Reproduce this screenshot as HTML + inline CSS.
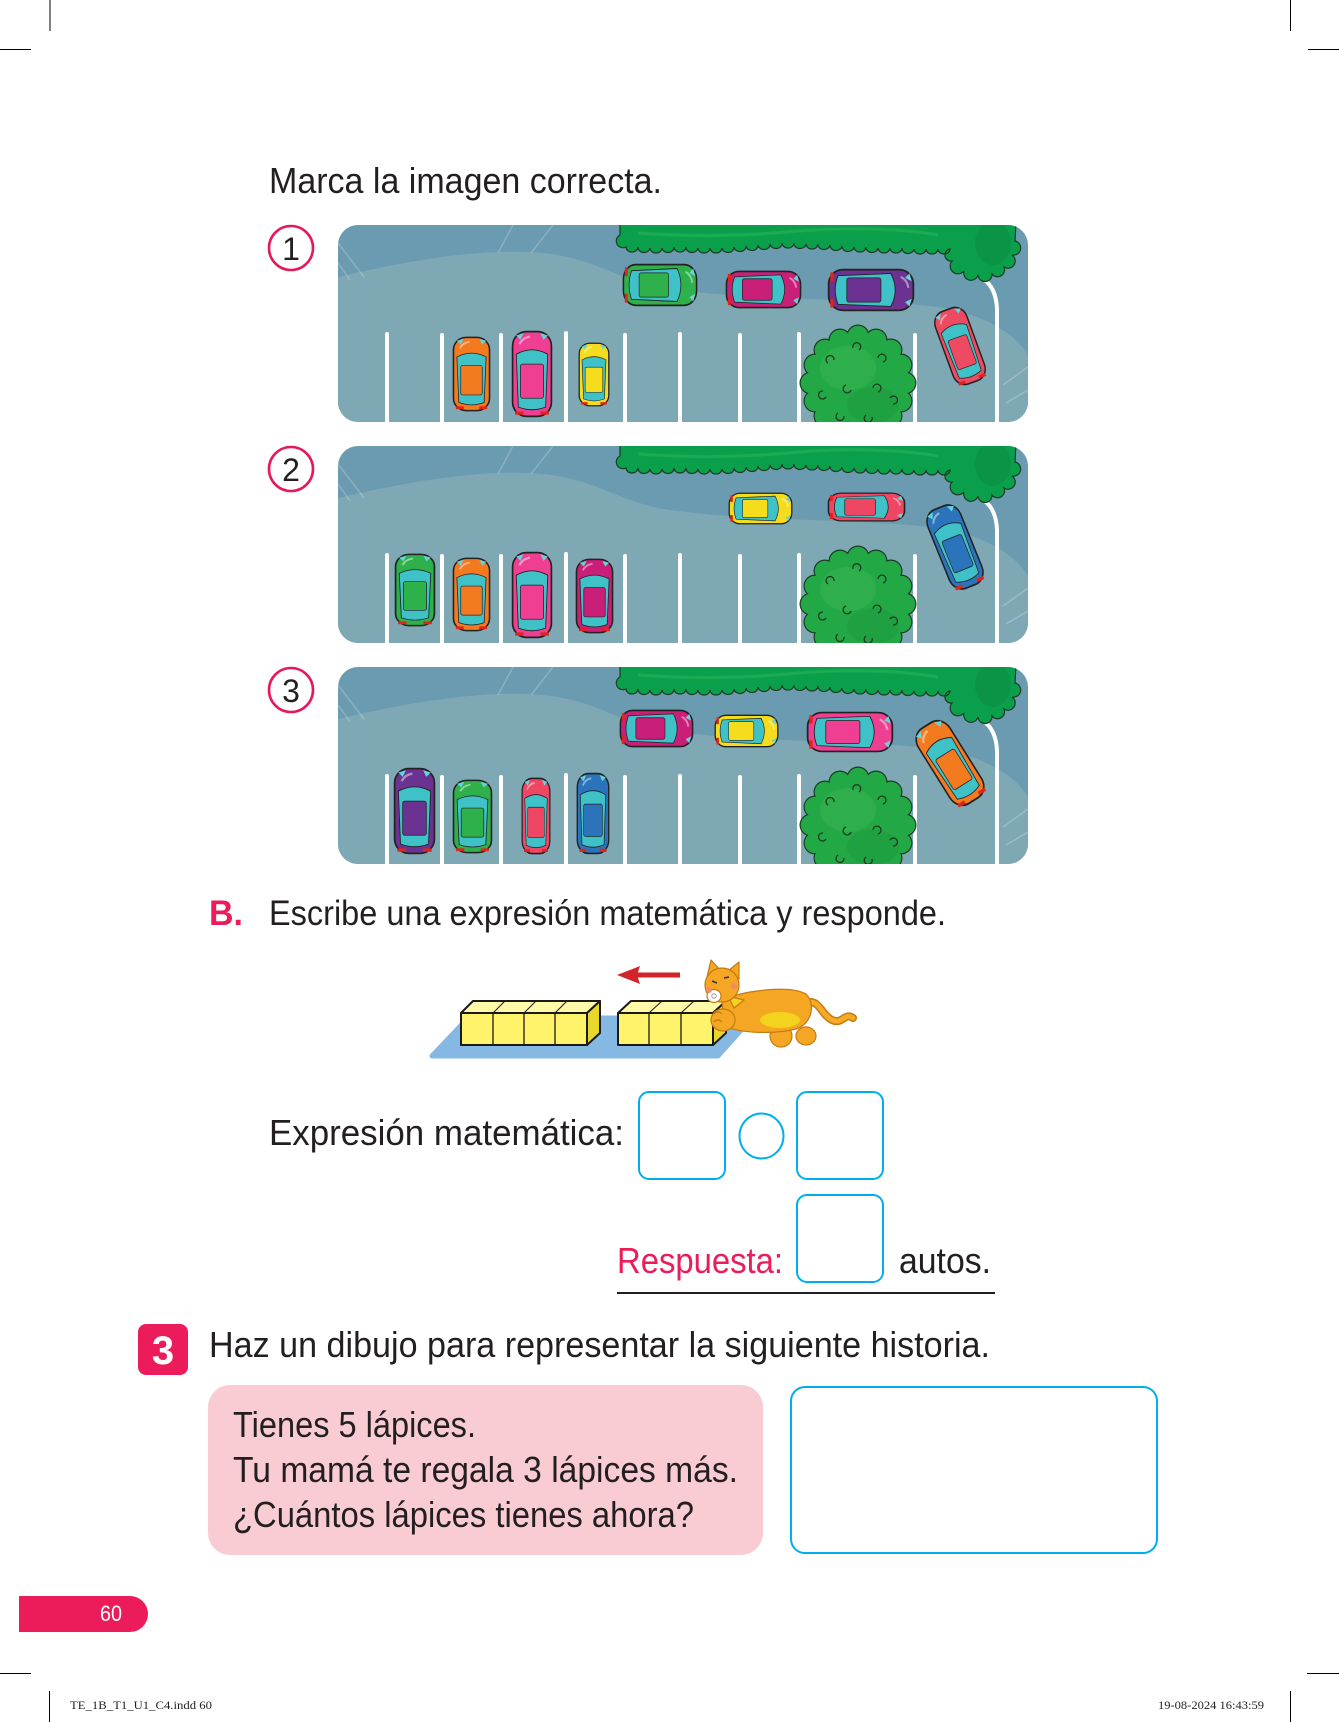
<!DOCTYPE html>
<html><head><meta charset="utf-8">
<style>
html,body{margin:0;padding:0;background:#fff;}
svg{display:block;}
text{font-family:"Liberation Sans",Arial,sans-serif;fill:#231f20;}
</style></head>
<body>
<svg width="1339" height="1722" viewBox="0 0 1339 1722" xmlns="http://www.w3.org/2000/svg">
<defs>
  <clipPath id="pc" clipPathUnits="userSpaceOnUse"><rect x="0" y="0" width="690" height="197" rx="20"/></clipPath>
  <symbol id="car" viewBox="0 0 40 80" preserveAspectRatio="none">
    <rect x="1.5" y="1.5" width="37" height="77" rx="13" fill="currentColor" stroke="#222" stroke-width="1.6"/>
    <path d="M5,22 Q20,14 35,22 L33,70 Q20,75 7,70 Z" fill="#3fc1c8" stroke="#222" stroke-width="0.8"/>
    <rect x="9" y="31" width="22" height="31" rx="2" fill="currentColor" stroke="#222" stroke-width="0.7"/>
    <path d="M5,5 L12,3 L9,9 Z" fill="#6ad3d8"/>
    <path d="M35,5 L28,3 L31,9 Z" fill="#6ad3d8"/>
    <rect x="4" y="74" width="8" height="3" fill="#e2231a"/>
    <rect x="28" y="74" width="8" height="3" fill="#e2231a"/>
    <path d="M8,13 Q11,7 18,6" stroke="#fff" stroke-opacity=".45" stroke-width="2" fill="none"/>
  </symbol>
  <g id="lot">
    <rect x="0" y="0" width="690" height="197" fill="#6a9bb0"/>
    <path d="M0,52 C60,38 140,22 205,28 C255,33 275,52 320,62 C400,76 520,72 600,82 C640,88 675,105 690,130 L690,197 L0,197 Z" fill="#7fa8b5"/>
    <g stroke="#ffffff" stroke-opacity="0.22" stroke-width="1.5" fill="none">
      <line x1="0" y1="18" x2="26" y2="52"/>
      <line x1="0" y1="38" x2="12" y2="55"/>
      <line x1="175" y1="0" x2="160" y2="28"/>
      <line x1="215" y1="0" x2="193" y2="28"/>
      <line x1="665" y1="160" x2="690" y2="142"/>
      <line x1="668" y1="178" x2="690" y2="165"/>
    </g>
    <g fill="#ffffff">
      <rect x="47" y="107" width="4" height="95" rx="2"/>
      <rect x="102" y="108" width="4" height="95" rx="2"/>
      <rect x="161" y="108" width="4" height="95" rx="2"/>
      <rect x="226" y="106" width="4" height="95" rx="2"/>
      <rect x="285" y="108" width="4" height="95" rx="2"/>
      <rect x="340" y="107" width="4" height="95" rx="2"/>
      <rect x="400" y="108" width="4" height="95" rx="2"/>
      <rect x="459" y="107" width="4" height="95" rx="2"/>
      <rect x="517" y="108" width="4" height="95" rx="2"/>
      <rect x="575" y="108" width="4" height="95" rx="2"/>
    </g>
    <path d="M645,54 Q658,62 659,84 L659,205" stroke="#ffffff" stroke-width="4" fill="none" stroke-linecap="round"/>
    <path d="M282,-2 L282,10 a6,6 0 0 0 6,12
      a6,5 0 0 0 12,0 a6,5 0 0 0 12,1 a6,5 0 0 0 12,0 a6,5 0 0 0 12,-1 a6,5 0 0 0 12,0 a6,5 0 0 0 12,1
      a6,5 0 0 0 12,0 a6,5 0 0 0 12,0 a6,5 0 0 0 12,-1 a6,5 0 0 0 12,-1 a6,5 0 0 0 12,-1 a6,5 0 0 0 12,-1
      a6,5 0 0 0 12,-1 a6,5 0 0 0 12,0 a6,5 0 0 0 12,1 a6,5 0 0 0 12,0 a6,5 0 0 0 12,1 a6,5 0 0 0 12,1
      a6,5 0 0 0 12,1 a6,5 0 0 0 12,0 a6,5 0 0 0 12,1 a6,5 0 0 0 12,0 a6,5 0 0 0 12,0 a6,5 0 0 0 12,1
      a6,5 0 0 0 12,0 a6,5 0 0 0 12,0 a6,5 0 0 0 12,0
      a6,6 0 0 0 2,12 a7,7 0 0 0 12,10 a7,7 0 0 0 14,4 a7,7 0 0 0 14,-1 a7,7 0 0 0 12,-7 a7,7 0 0 0 8,-12 a7,7 0 0 0 3,-14 L678,-2 Z"
      fill="#0aa04b" stroke="#1d3b22" stroke-width="1.2"/>
    <ellipse cx="655" cy="18" rx="18" ry="22" fill="#0b8a42" opacity="0.6"/>
    <path d="M300,8 Q380,14 460,6 Q540,0 600,10" stroke="#27b257" stroke-width="3" fill="none" opacity="0.6"/>
    <g transform="translate(520,158)">
      <g fill="#1d3b22">
        <circle r="47.5"/>
        <circle cx="47" cy="0" r="11.5"/><circle cx="43" cy="18" r="11.5"/><circle cx="33" cy="33" r="11.5"/><circle cx="18" cy="43" r="11.5"/>
        <circle cx="0" cy="47" r="11.5"/><circle cx="-18" cy="43" r="11.5"/><circle cx="-33" cy="33" r="11.5"/><circle cx="-43" cy="18" r="11.5"/>
        <circle cx="-47" cy="0" r="11.5"/><circle cx="-43" cy="-18" r="11.5"/><circle cx="-33" cy="-33" r="11.5"/><circle cx="-18" cy="-43" r="11.5"/>
        <circle cx="0" cy="-47" r="11.5"/><circle cx="18" cy="-43" r="11.5"/><circle cx="33" cy="-33" r="11.5"/><circle cx="43" cy="-18" r="11.5"/>
      </g>
      <g fill="#23a846">
        <circle r="46.5"/>
        <circle cx="47" cy="0" r="10.3"/><circle cx="43" cy="18" r="10.3"/><circle cx="33" cy="33" r="10.3"/><circle cx="18" cy="43" r="10.3"/>
        <circle cx="0" cy="47" r="10.3"/><circle cx="-18" cy="43" r="10.3"/><circle cx="-33" cy="33" r="10.3"/><circle cx="-43" cy="18" r="10.3"/>
        <circle cx="-47" cy="0" r="10.3"/><circle cx="-43" cy="-18" r="10.3"/><circle cx="-33" cy="-33" r="10.3"/><circle cx="-18" cy="-43" r="10.3"/>
        <circle cx="0" cy="-47" r="10.3"/><circle cx="18" cy="-43" r="10.3"/><circle cx="33" cy="-33" r="10.3"/><circle cx="43" cy="-18" r="10.3"/>
      </g>
      <ellipse cx="-10" cy="-15" rx="28" ry="22" fill="#3bb552" opacity="0.5"/>
      <ellipse cx="15" cy="22" rx="26" ry="18" fill="#1a9a3c" opacity="0.45"/>
      <g stroke="#1d3b22" stroke-width="1.3" fill="none">
        <path d="M-30,-20 a4,4 0 1 1 6,-3"/>
        <path d="M-5,-35 a4,4 0 1 1 6,2"/>
        <path d="M20,-25 a4,4 0 1 1 5,4"/>
        <path d="M-35,8 a4,4 0 1 0 3,6"/>
        <path d="M-12,2 a4,4 0 1 0 5,5"/>
        <path d="M15,5 a4,4 0 1 1 5,4"/>
        <path d="M-20,30 a4,4 0 1 0 6,3"/>
        <path d="M8,32 a4,4 0 1 0 6,2"/>
        <path d="M32,15 a4,4 0 1 1 3,6"/>
      </g>
    </g>
  </g>
</defs>

<!-- crop marks -->
<g stroke="#000" stroke-width="1">
  <line x1="50" y1="0" x2="50" y2="31"/>
  <line x1="0" y1="49.5" x2="31" y2="49.5"/>
  <line x1="1290.5" y1="0" x2="1290.5" y2="31"/>
  <line x1="1308" y1="49.5" x2="1339" y2="49.5"/>
  <line x1="0" y1="1673.5" x2="31" y2="1673.5"/>
  <line x1="1307" y1="1673.5" x2="1339" y2="1673.5"/>
  <line x1="49.5" y1="1691" x2="49.5" y2="1722"/>
  <line x1="1290.5" y1="1691" x2="1290.5" y2="1722"/>
</g>

<text x="269" y="193" font-size="36" textLength="393" lengthAdjust="spacingAndGlyphs">Marca la imagen correcta.</text>

<!-- number circles -->
<g fill="#fff" stroke="#e5195a" stroke-width="2.6">
  <circle cx="291" cy="248" r="22"/>
  <circle cx="291" cy="469" r="22"/>
  <circle cx="291" cy="690" r="22"/>
</g>
<text x="291" y="260" font-size="32" text-anchor="middle">1</text>
<text x="291" y="481" font-size="32" text-anchor="middle">2</text>
<text x="291" y="702" font-size="32" text-anchor="middle">3</text>

<!-- Panel 1 -->
<g transform="translate(338,225)">
  <g clip-path="url(#pc)">
    <use href="#lot"/>
    <use href="#car" x="114" y="111" width="39" height="76" color="#f47a20"/>
    <use href="#car" x="173" y="105" width="42" height="88" color="#ee3f93"/>
    <use href="#car" x="240" y="117" width="32" height="65" color="#f5dd1e"/>
    <g transform="translate(322,60) rotate(90)"><use href="#car" x="-22" y="-38" width="44" height="76" color="#2eb04b"/></g>
    <g transform="translate(425.5,64.5) rotate(90)"><use href="#car" x="-19.5" y="-38.5" width="39" height="77" color="#c91f78"/></g>
    <g transform="translate(533,65) rotate(90)"><use href="#car" x="-22" y="-44" width="44" height="88" color="#6c3291"/></g>
    <g transform="translate(622,121) rotate(-20)"><use href="#car" x="-18" y="-40" width="36" height="80" color="#ee4a62"/></g>
  </g>
</g>

<!-- Panel 2 -->
<g transform="translate(338,446)">
  <g clip-path="url(#pc)">
    <use href="#lot"/>
    <use href="#car" x="56" y="107" width="42" height="74" color="#2eb04b"/>
    <use href="#car" x="114" y="111" width="39" height="75" color="#f47a20"/>
    <use href="#car" x="173" y="105" width="42" height="88" color="#ee3f93"/>
    <use href="#car" x="237" y="112" width="39" height="76" color="#c91f78"/>
    <g transform="translate(422.5,62.5) rotate(90)"><use href="#car" x="-16.5" y="-32.5" width="33" height="65" color="#f5dd1e"/></g>
    <g transform="translate(528.5,61) rotate(90)"><use href="#car" x="-15" y="-39.5" width="30" height="79" color="#ef4763"/></g>
    <g transform="translate(617,101) rotate(-22)"><use href="#car" x="-19" y="-44" width="38" height="88" color="#2b73ba"/></g>
  </g>
</g>

<!-- Panel 3 -->
<g transform="translate(338,667)">
  <g clip-path="url(#pc)">
    <use href="#lot"/>
    <use href="#car" x="55" y="100" width="43" height="88" color="#6c3291"/>
    <use href="#car" x="114" y="112" width="41" height="75" color="#2eb04b"/>
    <use href="#car" x="183" y="110" width="30" height="78" color="#ef4763"/>
    <use href="#car" x="238" y="105" width="34" height="83" color="#2b73ba"/>
    <g transform="translate(318.5,61.5) rotate(90)"><use href="#car" x="-19.5" y="-37.5" width="39" height="75" color="#c91f78"/></g>
    <g transform="translate(408.5,64) rotate(90)"><use href="#car" x="-17" y="-32.5" width="34" height="65" color="#f5dd1e"/></g>
    <g transform="translate(512,65) rotate(90)"><use href="#car" x="-21" y="-44" width="42" height="88" color="#ee3f93"/></g>
    <g transform="translate(612,96) rotate(-32)"><use href="#car" x="-20" y="-46" width="40" height="92" color="#f47a20"/></g>
  </g>
</g>

<!-- Section B -->
<text x="209" y="925" font-size="35" font-weight="bold" style="fill:#ec1c5b" textLength="34" lengthAdjust="spacingAndGlyphs">B.</text>
<text x="269" y="925" font-size="35" textLength="677" lengthAdjust="spacingAndGlyphs">Escribe una expresión matemática y responde.</text>

<!-- blocks illustration -->
<path d="M468,1018 L752,1018 L718,1056 L432,1056 Z" fill="#85b9e4" stroke="#85b9e4" stroke-width="5" stroke-linejoin="round"/>
<g stroke="#1a1a1a" stroke-width="2" stroke-linejoin="round">
  <polygon points="461,1013 473,1001 600,1001 587,1013" fill="#fff9a8"/>
  <polygon points="587,1013 600,1001 600,1033 587,1045" fill="#e8d82a"/>
  <rect x="461" y="1013" width="126" height="32" fill="#fff36b"/>
  <line x1="493" y1="1013" x2="493" y2="1045" stroke-width="1.3"/>
  <line x1="524" y1="1013" x2="524" y2="1045" stroke-width="1.3"/>
  <line x1="555" y1="1013" x2="555" y2="1045" stroke-width="1.3"/>
  <line x1="493" y1="1013" x2="505" y2="1001" stroke-width="1"/>
  <line x1="524" y1="1013" x2="536" y2="1001" stroke-width="1"/>
  <line x1="555" y1="1013" x2="567" y2="1001" stroke-width="1"/>

  <polygon points="618,1013 631,1001 726,1001 713,1013" fill="#fff9a8"/>
  <polygon points="713,1013 726,1001 726,1033 713,1045" fill="#e8d82a"/>
  <rect x="618" y="1013" width="95" height="32" fill="#fff36b"/>
  <line x1="649" y1="1013" x2="649" y2="1045" stroke-width="1.3"/>
  <line x1="681" y1="1013" x2="681" y2="1045" stroke-width="1.3"/>
  <line x1="649" y1="1013" x2="662" y2="1001" stroke-width="1"/>
  <line x1="681" y1="1013" x2="694" y2="1001" stroke-width="1"/>
</g>
<!-- arrow -->
<rect x="636" y="972.5" width="44" height="5" fill="#d2232a"/>
<polygon points="617,975 640,966 637,975 640,984" fill="#d2232a"/>

<!-- cat -->
<g stroke="#c47a12" stroke-width="1.2" stroke-linejoin="round">
  <path d="M805,1003 C820,998 820,1014 832,1020 C842,1025 845,1012 853,1018" stroke="#c47a12" stroke-width="8" fill="none" stroke-linecap="round"/>
  <path d="M805,1003 C820,998 820,1014 832,1020 C842,1025 845,1012 853,1018" stroke="#f7aa26" stroke-width="5" fill="none" stroke-linecap="round"/>
  <ellipse cx="806" cy="1036" rx="10" ry="9" fill="#f5a623"/>
  <ellipse cx="781" cy="1036" rx="11" ry="11" fill="#f5a623"/>
  <path d="M722,1000 C745,990 790,985 806,994 C816,1004 812,1024 796,1029 C776,1034 742,1034 724,1026 Z" fill="#f5a623"/>
  <ellipse cx="780" cy="1020" rx="20" ry="8" fill="#f4d31f" stroke="none"/>
  <path d="M728,996 L744,1000 L734,1008 Z" fill="#f4d31f"/>
  <ellipse cx="723" cy="1020" rx="12" ry="11" fill="#f5a623"/>
  <path d="M714,1014 q4,-4 8,0 M714,1022 q4,-4 8,0" fill="none"/>
  <path d="M707,977 L711,960 L721,971 Z" fill="#f5a623"/>
  <path d="M728,971 L739,962 L739,979 Z" fill="#f5a623"/>
  <circle cx="722" cy="985" r="17" fill="#f5a623"/>
  <ellipse cx="714" cy="996" rx="7" ry="6.5" fill="#ffffff"/>
</g>
<circle cx="709" cy="990" r="3" fill="#f48a6a"/>
<circle cx="734" cy="986" r="3" fill="#f48a6a"/>
<path d="M712,981 l5,2 M724,978 l5,-1" stroke="#333" stroke-width="1.5"/>
<circle cx="714" cy="996" r="2.2" fill="none" stroke="#888" stroke-width="0.8"/>

<!-- expression -->
<text x="269" y="1145" font-size="36" textLength="355" lengthAdjust="spacingAndGlyphs">Expresión matemática:</text>
<g fill="none" stroke="#00aeef" stroke-width="2">
  <rect x="639" y="1092" width="86" height="87" rx="10"/>
  <ellipse cx="761.5" cy="1136" rx="22" ry="22.5"/>
  <rect x="797" y="1092" width="86" height="87" rx="10"/>
  <rect x="797" y="1195" width="86" height="87" rx="10"/>
</g>
<text x="617" y="1273" font-size="36" style="fill:#ec1c5b" textLength="166" lengthAdjust="spacingAndGlyphs">Respuesta:</text>
<text x="899" y="1273" font-size="36" textLength="92" lengthAdjust="spacingAndGlyphs">autos.</text>
<rect x="617" y="1292" width="378" height="2" fill="#231f20"/>

<!-- Section 3 -->
<rect x="138" y="1324" width="50" height="51" rx="8" fill="#ec1c5b"/>
<text x="163" y="1364" font-size="40" font-weight="bold" text-anchor="middle" style="fill:#fff">3</text>
<text x="209" y="1357" font-size="36" textLength="781" lengthAdjust="spacingAndGlyphs">Haz un dibujo para representar la siguiente historia.</text>

<rect x="208" y="1385" width="555" height="170" rx="22" fill="#f9ccd3"/>
<text x="233" y="1437" font-size="36" textLength="243" lengthAdjust="spacingAndGlyphs">Tienes 5 lápices.</text>
<text x="233" y="1482" font-size="36" textLength="505" lengthAdjust="spacingAndGlyphs">Tu mamá te regala 3 lápices más.</text>
<text x="233" y="1527" font-size="36" textLength="461" lengthAdjust="spacingAndGlyphs">¿Cuántos lápices tienes ahora?</text>

<rect x="791" y="1387" width="366" height="166" rx="14" fill="none" stroke="#00aeef" stroke-width="2"/>

<!-- footer -->
<path d="M19,1596 L130,1596 A18,18 0 0 1 130,1632 L19,1632 Z" fill="#ec1c5b"/>
<text x="100" y="1621" font-size="22" style="fill:#fff" textLength="22" lengthAdjust="spacingAndGlyphs">60</text>
<text x="70" y="1709" font-size="11.5" style="font-family:'Liberation Serif',serif" textLength="142" lengthAdjust="spacingAndGlyphs">TE_1B_T1_U1_C4.indd   60</text>
<text x="1158" y="1709" font-size="11.5" style="font-family:'Liberation Serif',serif" textLength="106" lengthAdjust="spacingAndGlyphs">19-08-2024   16:43:59</text>
</svg>
</body></html>
